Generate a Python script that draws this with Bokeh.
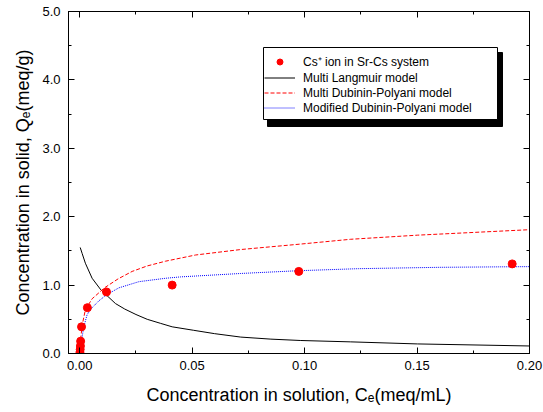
from bokeh.plotting import figure
from bokeh.models import (LinearAxis, SingleIntervalTicker, NumeralTickFormatter,
                          CustomJSTickFormatter, Range1d, Legend, LegendItem, BoxAnnotation)
from bokeh.embed import file_html
from bokeh.resources import INLINE

# ---- data ----
exp_x = [0.0001, 0.0002, 0.0003, 0.0004, 0.0008, 0.0034, 0.0119, 0.0411, 0.0974, 0.1923]
exp_y = [0.02, 0.06, 0.11, 0.18, 0.39, 0.67, 0.90, 1.00, 1.20, 1.31]

lang_x = [0.0002, 0.0011, 0.0025, 0.0055, 0.0094, 0.0159, 0.0200, 0.0250, 0.0300,
          0.0360, 0.0411, 0.0505, 0.0600, 0.0716, 0.0850, 0.0983, 0.1205, 0.1502, 0.1999]
lang_y = [1.55, 1.46, 1.32, 1.10, 0.93, 0.73, 0.65, 0.57, 0.50,
          0.44, 0.39, 0.34, 0.29, 0.24, 0.21, 0.19, 0.17, 0.14, 0.11]

mdp_x = [0.0001, 0.0004, 0.0010, 0.0025, 0.0055, 0.0110, 0.0170, 0.0233, 0.0300, 0.0382,
         0.0515, 0.0716, 0.0983, 0.1205, 0.1502, 0.2000]
mdp_y = [0.03, 0.20, 0.40, 0.64, 0.80, 0.96, 1.09, 1.20, 1.28, 1.35,
         1.44, 1.52, 1.60, 1.67, 1.73, 1.81]

moddp_x = [0.0003, 0.0008, 0.0012, 0.0018, 0.0033, 0.0055, 0.0085, 0.0120, 0.0174,
           0.0263, 0.0382, 0.0448, 0.0716, 0.0970, 0.1238, 0.1600, 0.2000]
moddp_y = [0.00, 0.15, 0.27, 0.39, 0.57, 0.67, 0.77, 0.86, 0.96,
           1.05, 1.10, 1.12, 1.17, 1.21, 1.24, 1.26, 1.27]

series_labels = ["Cs\u207a ion in Sr-Cs system", "Multi Langmuir model",
                 "Multi Dubinin-Polyani model", "Modified Dubinin-Polyani model"]
x_label = "Concentration in solution, C\u2091(meq/mL)"
y_label = "Concentration in solid, Q\u2091(meq/g)"

FONT = "Liberation Sans"

p = figure(width=543, height=412, output_backend="svg", toolbar_location=None,
           x_range=Range1d(-0.005, 0.2), y_range=Range1d(0, 5),
           min_border_left=68, min_border_right=14, min_border_top=11, min_border_bottom=59)
p.grid.visible = False
p.outline_line_color = "black"
p.outline_line_width = 1
p.background_fill_color = "white"
p.border_fill_color = "white"

xt = SingleIntervalTicker(interval=0.05, num_minor_ticks=2)
yt = SingleIntervalTicker(interval=1.0, num_minor_ticks=2)

def style_axis(ax):
    ax.axis_line_color = "black"
    ax.axis_line_width = 1
    ax.major_tick_in = 6
    ax.major_tick_out = 0
    ax.minor_tick_in = 3
    ax.minor_tick_out = 0
    ax.major_tick_line_color = "black"
    ax.minor_tick_line_color = "black"
    ax.major_tick_line_width = 1
    ax.minor_tick_line_width = 1
    ax.major_label_text_font = FONT
    ax.major_label_text_font_size = "13px"
    ax.major_label_text_color = "black"
    ax.axis_label_text_font = FONT
    ax.axis_label_text_font_size = "18px"
    ax.axis_label_text_font_style = "normal"
    ax.axis_label_text_color = "black"

xa = p.xaxis[0]
xa.ticker = xt
xa.formatter = NumeralTickFormatter(format="0.00")
style_axis(xa)
xa.major_label_standoff = 7
xa.axis_label = x_label
xa.axis_label_standoff = 12

ya = p.yaxis[0]
ya.ticker = yt
ya.formatter = NumeralTickFormatter(format="0.0")
style_axis(ya)
ya.major_label_standoff = 8
ya.axis_label = y_label
ya.axis_label_standoff = 6

empty = CustomJSTickFormatter(code="return ''")
top = LinearAxis(ticker=SingleIntervalTicker(interval=0.05, num_minor_ticks=2), formatter=empty)
style_axis(top)
top.major_label_standoff = 0
top.major_label_text_font_size = "1px"
right = LinearAxis(ticker=SingleIntervalTicker(interval=1.0, num_minor_ticks=2), formatter=empty)
style_axis(right)
right.major_label_standoff = 0
right.major_label_text_font_size = "1px"
p.add_layout(top, "above")
p.add_layout(right, "right")

r_lang = p.line(lang_x, lang_y, line_color="black", line_width=1)
r_mdp = p.line(mdp_x, mdp_y, line_color="red", line_width=1, line_dash="4 2")
r_mod = p.line(moddp_x, moddp_y, line_color="blue", line_width=1, line_dash="1 1")
r_exp = p.scatter(exp_x, exp_y, marker="circle", size=8, fill_color="red", line_color="red")

# legend frame with shadow
shadow = BoxAnnotation(left=199, right=434, top=301, bottom=227,
                       left_units="screen", right_units="screen",
                       top_units="screen", bottom_units="screen",
                       fill_color="black", fill_alpha=1, line_color="black", line_alpha=1,
                       propagate_hover=False)
box = BoxAnnotation(left=195, right=429, top=306, bottom=234,
                    left_units="screen", right_units="screen",
                    top_units="screen", bottom_units="screen",
                    fill_color="white", fill_alpha=1, line_color="black", line_alpha=1,
                    line_width=1)
p.add_layout(shadow)
p.add_layout(box)

legend = Legend(items=[LegendItem(label=series_labels[0], renderers=[r_exp]),
                       LegendItem(label=series_labels[1], renderers=[r_lang]),
                       LegendItem(label=series_labels[2], renderers=[r_mdp]),
                       LegendItem(label=series_labels[3], renderers=[r_mod])],
                location=(196, 238), margin=0, padding=0, spacing=0,
                glyph_width=31, glyph_height=15, label_height=15, label_standoff=8,
                label_text_font=FONT, label_text_font_size="12px", label_text_color="black",
                border_line_color=None, background_fill_alpha=0)
p.add_layout(legend, "center")

open("out.html", "w").write(file_html(p, INLINE))
